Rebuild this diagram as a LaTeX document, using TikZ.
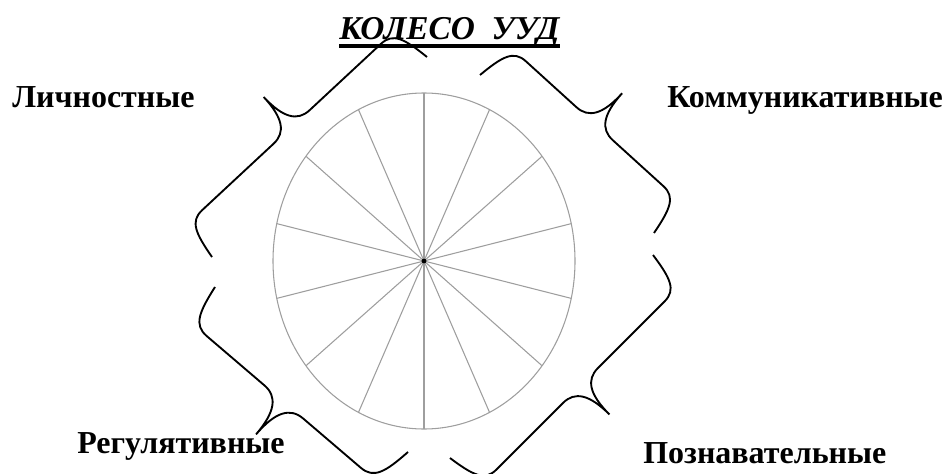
\documentclass[tikz,border=0pt]{standalone}
\usepackage{fontspec}
\setmainfont{Liberation Serif}[
  BoldFont={Liberation Serif Bold},
  ItalicFont={Liberation Serif Italic},
  BoldItalicFont={Liberation Serif Bold Italic}]
\usepackage{tikz}
\usetikzlibrary{decorations.pathreplacing}

% brace with short hooked ends and a sharp middle tip
\pgfdeclaredecoration{hookbrace}{brace}{%
  \state{brace}[width=+\pgfdecoratedremainingdistance,next state=final]{%
    \pgfpathmoveto{\pgfpointorigin}%
    \pgfpathcurveto
      {\pgfqpoint{.05\pgfdecorationsegmentamplitude}{.35\pgfdecorationsegmentamplitude}}%
      {\pgfqpoint{.1\pgfdecorationsegmentamplitude}{.5\pgfdecorationsegmentamplitude}}%
      {\pgfqpoint{.3\pgfdecorationsegmentamplitude}{.5\pgfdecorationsegmentamplitude}}%
    {%
      \pgftransformxshift{+.5\pgfdecoratedremainingdistance}%
      \pgfpathlineto{\pgfqpoint{-.3\pgfdecorationsegmentamplitude}{.5\pgfdecorationsegmentamplitude}}%
      \pgfpathcurveto
        {\pgfqpoint{-.1\pgfdecorationsegmentamplitude}{.5\pgfdecorationsegmentamplitude}}%
        {\pgfqpoint{0pt}{.65\pgfdecorationsegmentamplitude}}%
        {\pgfqpoint{0pt}{\pgfdecorationsegmentamplitude}}%
      \pgfpathcurveto
        {\pgfqpoint{0pt}{.65\pgfdecorationsegmentamplitude}}%
        {\pgfqpoint{.1\pgfdecorationsegmentamplitude}{.5\pgfdecorationsegmentamplitude}}%
        {\pgfqpoint{.3\pgfdecorationsegmentamplitude}{.5\pgfdecorationsegmentamplitude}}%
    }%
    {%
      \pgftransformxshift{+\pgfdecoratedremainingdistance}%
      \pgfpathlineto{\pgfqpoint{-.3\pgfdecorationsegmentamplitude}{.5\pgfdecorationsegmentamplitude}}%
      \pgfpathcurveto
        {\pgfqpoint{-.1\pgfdecorationsegmentamplitude}{.5\pgfdecorationsegmentamplitude}}%
        {\pgfqpoint{-.05\pgfdecorationsegmentamplitude}{.35\pgfdecorationsegmentamplitude}}%
        {\pgfpointorigin}%
    }%
  }%
  \state{final}{}%
}

\begin{document}
\begin{tikzpicture}[
    x=0.75pt, y=-0.75pt,
    % ── Styles ──
    spoke/.style={draw=black!38, line width=0.8pt},
    grp/.style={font=\fontsize{24}{28}\selectfont\bfseries, anchor=base west, inner sep=0pt},
    curly/.style={decorate, decoration={hookbrace, amplitude=#1}, line width=1.4pt},
    curly/.default=61.5pt
]
\useasboundingbox (0,0) rectangle (946,474);

% ═══ Wheel ═══
\coordinate (hub) at (424,261);
\draw[spoke] (hub) ellipse [x radius=113.25pt, y radius=126pt];
\foreach \a in {0,...,13}
  \draw[spoke] (hub) -- ++({90+\a*360/14}:113.25pt and 126pt);
\fill (hub) circle[radius=1.8pt];

% ═══ Title ═══
\node[grp, font=\fontsize{25}{29}\selectfont\bfseries\itshape] (title) at (339,40) {КОЛЕСО\ \ УУД};
\draw[line width=2.5pt] ([yshift=-4.5pt]title.base west) -- ([yshift=-4.5pt]title.base east);

% ═══ Group names ═══
\node[grp] (lichn) at (12,108)  {Личностные};
\node[grp] (komm)  at (667,108) {Коммуникативные};
\node[grp] (regul) at (77,453)  {Регулятивные};
\node[grp] (pozn)  at (643,463) {Познавательные};

% ═══ Braces ═══
\coordinate (tl1) at (212,257); \coordinate (tl2) at (427,57);
\coordinate (tr1) at (480,75);  \coordinate (tr2) at (654,233);
\coordinate (br1) at (653,255); \coordinate (br2) at (450,458);
\coordinate (bl1) at (408,452); \coordinate (bl2) at (215,287);
\draw[curly] (tl1) -- (tl2);
\draw[curly] (tr1) -- (tr2);
\draw[curly] (br1) -- (br2);
\draw[curly=64pt] (bl1) -- (bl2);

\end{tikzpicture}
\end{document}
